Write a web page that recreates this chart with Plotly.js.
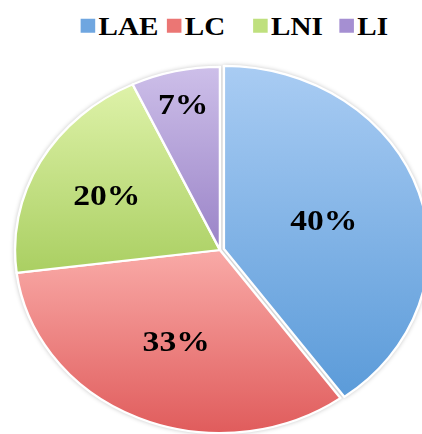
<!DOCTYPE html>
<html>
<head>
<meta charset="utf-8">
<script src="https://cdn.plot.ly/plotly-3.0.1.min.js"></script>
<style>
html, body { margin: 0; padding: 0; width: 422px; height: 434px; overflow: hidden; background: #fff; }
#chart { width: 400px; height: 460px; transform: scaleX(1.12); transform-origin: 0 0; }
</style>
</head>
<body>
<div id="chart"></div>
<script>
const labels = ["LAE", "LC", "LNI", "LI"];
const values = [40, 33, 20, 7];
const colors = ["#83b2e6", "#ee8d8b", "#c8e38f", "#b3a2d9"];
const gradTop = ["#a9ccf3", "#f9aaa7", "#def2a9", "#cdbfe9"];
const gradBottom = ["#5b9bd9", "#e05c5c", "#aacf62", "#9a83c7"];
const legendColors = ["#6fa6e0", "#eb7674", "#bfe07e", "#a58fd2"];
const pulls = [0.02, 0, 0, 0];

const serif = "Liberation Serif, Times New Roman, serif";

const data = [{
  type: "pie",
  labels: labels,
  values: values,
  sort: false,
  direction: "clockwise",
  rotation: 0,
  pull: pulls,
  marker: { colors: colors, line: { color: "#ffffff", width: 2.2 } },
  textinfo: "percent",
  texttemplate: "%{percent:.0%}",
  textposition: "inside",
  insidetextorientation: "horizontal",
  textfont: { family: serif, size: 30, color: "#000000", weight: "bold" },
  hoverinfo: "none",
  domain: { x: [0.02425, 0.95775], y: [0.0507, 0.8624] }
}];

const layout = {
  width: 400,
  height: 460,
  margin: { l: 0, r: 0, t: 0, b: 0 },
  paper_bgcolor: "#ffffff",
  showlegend: true,
  legend: {
    orientation: "h",
    x: 0.505, xanchor: "center",
    y: 0.997, yanchor: "top",
    font: { family: serif, size: 26, color: "#000000", weight: "bold" },
    itemwidth: 30,
    entrywidth: 32,
    entrywidthmode: "pixels",
    traceorder: "normal"
  }
};

Plotly.newPlot("chart", data, layout, { displayModeBar: false, staticPlot: true }).then(function () {
  const svg = document.querySelector("#chart svg.main-svg");
  const ns = "http://www.w3.org/2000/svg";
  let defs = svg.querySelector("defs");
  if (!defs) { defs = document.createElementNS(ns, "defs"); svg.insertBefore(defs, svg.firstChild); }
  labels.forEach(function (lab, i) {
    const g = document.createElementNS(ns, "linearGradient");
    g.setAttribute("id", "grad" + i);
    g.setAttribute("x1", "0"); g.setAttribute("y1", "0");
    g.setAttribute("x2", "0"); g.setAttribute("y2", "1");
    const s1 = document.createElementNS(ns, "stop");
    s1.setAttribute("offset", "0"); s1.setAttribute("stop-color", gradTop[i]);
    const s2 = document.createElementNS(ns, "stop");
    s2.setAttribute("offset", "1"); s2.setAttribute("stop-color", gradBottom[i]);
    g.appendChild(s1); g.appendChild(s2);
    defs.appendChild(g);
  });
  document.querySelectorAll("#chart .pielayer .slice").forEach(function (sl, i) {
    const p = sl.querySelector("path.surface");
    if (p) p.style.fill = "url(#grad" + i + ")";
  });
  const pl = document.querySelector("#chart .pielayer");
  if (pl) pl.style.filter = "drop-shadow(0px 0px 2px rgba(0,0,0,0.22))";
  // larger legend swatches, placed just before their text
  document.querySelectorAll("#chart .legend .traces").forEach(function (tr, i) {
    const p = tr.querySelector(".legendpoints path");
    const t = tr.querySelector("text.legendtext");
    if (!p || !t) return;
    p.setAttribute("transform", "");
    const trM = tr.getCTM();
    const pM = p.parentNode.getCTM();
    const offX = pM.e - trM.e, offY = pM.f - trM.f;
    const textX = parseFloat(t.getAttribute("x") || "40");
    const cx = textX - 3 - 6.5, cy = 1;
    p.setAttribute("d", "M-6.5,-7H6.5V7H-6.5Z");
    p.setAttribute("transform", "translate(" + (cx - offX) + "," + (cy - offY) + ")");
    p.style.fill = legendColors[i];
    p.style.strokeWidth = "0";
  });
});
</script>
</body>
</html>
